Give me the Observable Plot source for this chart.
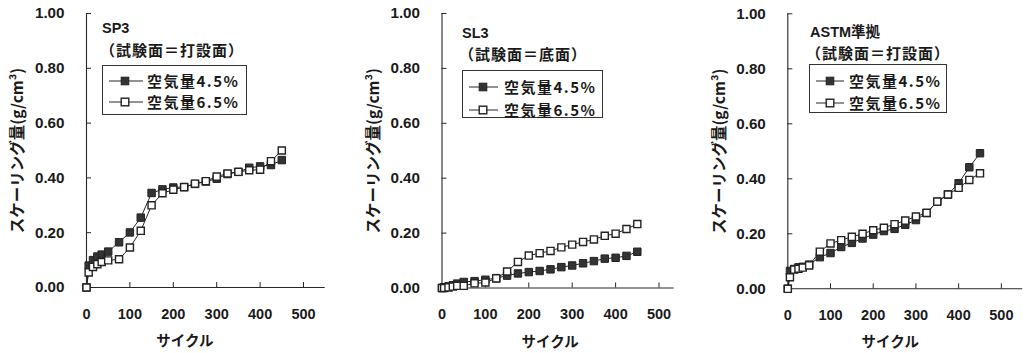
<!DOCTYPE html>
<html><head><meta charset="utf-8">
<script src="https://cdn.jsdelivr.net/npm/d3@7"></script>
<script src="https://cdn.jsdelivr.net/npm/@observablehq/plot@0.6"></script>
<style>
body{margin:0;background:#fff;}
#wrap{position:relative;width:1026px;height:353px;overflow:hidden;background:#fff;}
.panel{position:absolute;top:0;}
.t{position:absolute;font-family:"Noto Sans CJK JP","Liberation Sans",sans-serif;font-weight:bold;color:#1a1a1a;white-space:nowrap;line-height:20px;height:20px;}
.legend{position:absolute;border:1px solid #333;box-sizing:border-box;background:#fff;}
.row{position:absolute;left:0;height:20px;line-height:20px;white-space:nowrap;font-family:"Noto Sans CJK JP",sans-serif;font-weight:bold;font-size:15px;letter-spacing:1.5px;color:#1a1a1a;}
.row svg{position:absolute;top:0;left:0;}
.row span{position:absolute;top:0;}
</style></head>
<body><div id="wrap"></div>
<script>
// ---- data ----
const cycles = [0,5,15,25,35,50,75,100,125,150,175,200,225,250,275,300,325,350,375,400,425,450];
const sp3_45 = [0,0.080,0.100,0.113,0.120,0.131,0.165,0.201,0.255,0.345,0.358,0.365,0.367,0.378,0.387,0.397,0.414,0.422,0.437,0.442,0.447,0.465];
const sp3_65 = [0,0.055,0.075,0.085,0.093,0.099,0.103,0.146,0.207,0.300,0.344,0.357,0.366,0.379,0.388,0.405,0.416,0.422,0.428,0.430,0.461,0.500];
const sl3_45 = [0,0.003,0.006,0.010,0.016,0.022,0.025,0.030,0.036,0.045,0.053,0.058,0.062,0.068,0.076,0.082,0.090,0.098,0.107,0.110,0.117,0.132];
const sl3_65 = [0,0.000,0.002,0.005,0.008,0.008,0.017,0.020,0.035,0.060,0.095,0.118,0.127,0.135,0.148,0.158,0.168,0.177,0.190,0.198,0.215,0.233];
const astm_45 = [0,0.065,0.072,0.078,0.080,0.088,0.115,0.130,0.152,0.167,0.183,0.197,0.210,0.218,0.233,0.250,0.276,0.317,0.343,0.384,0.442,0.493];
const astm_65 = [0,0.042,0.070,0.073,0.077,0.085,0.135,0.165,0.177,0.189,0.200,0.213,0.222,0.235,0.248,0.263,0.276,0.317,0.343,0.367,0.396,0.420];
const xTicks = [0,100,200,300,400,500];
const yTicks = [0,0.2,0.4,0.6,0.8,1.0];
const seriesNames = ["空気量4.5%","空気量6.5%"];
const panelTitles = ["SP3","SL3","ASTM準拠"];
const panelSubtitles = ["（試験面＝打設面）","（試験面＝底面）","（試験面＝打設面）"];
const xLabel = "サイクル";
const yLabel = "スケーリング量(g/cm³)";

const panels = [
  {s45: sp3_45, s65: sp3_65, left: 0, width: 340, mL: 86, mR: 15.3, mT: 13, mB: 66, xMax: 550, xlDx: -21,
   title: {x: 102, y: 27.5}, sub: {x: 100, y: 49.5}, box: {x: 102, y: 65, w: 145, h: 50, r1: 16, r2: 37, l0: 6, l1: 40, m: 22, tx: 44}},
  {s45: sl3_45, s65: sl3_65, left: 350, width: 340, mL: 91.5, mR: 16.3, mT: 13, mB: 65.5, xMax: 535, xlDx: -8,
   title: {x: 462, y: 33}, sub: {x: 459, y: 54}, box: {x: 462, y: 70, w: 141, h: 48, r1: 17, r2: 40, l0: 6, l1: 35, m: 20, tx: 41}},
  {s45: astm_45, s65: astm_65, left: 700, width: 326, mL: 87.3, mR: 3.8, mT: 13.3, mB: 64.7, xMax: 550, xlDx: -15,
   title: {x: 810, y: 32}, sub: {x: 806, y: 52.5}, box: {x: 809, y: 64, w: 138, h: 49, r1: 17, r2: 39, l0: 6, l1: 34, m: 20, tx: 39}}
];

const ink = "#262626";
const wrap = document.getElementById("wrap");

panels.forEach((p, i) => {
  const rows45 = cycles.map((c, k) => ({x: c, y: p.s45[k]}));
  const rows65 = cycles.map((c, k) => ({x: c, y: p.s65[k]}));
  const plotH = 353 - p.mT - p.mB;
  const plotW = p.width - p.mL - p.mR;
  const chart = Plot.plot({
    width: p.width, height: 353,
    marginLeft: p.mL, marginRight: p.mR, marginTop: p.mT, marginBottom: p.mB,
    x: {domain: [0, p.xMax]},
    y: {domain: [0, 1]},
    style: {fontFamily: "'Liberation Sans', Arial, sans-serif", fontSize: "14.5px", fontWeight: "bold", color: "#1a1a1a", background: "transparent", overflow: "visible"},
    marks: [
      Plot.ruleX([0], {stroke: ink, strokeWidth: 1.1}),
      Plot.ruleY([0], {stroke: ink, strokeWidth: 1.1}),
      Plot.ruleX(xTicks.filter(t => t > 0), {stroke: ink, insetTop: plotH - 5}),
      Plot.ruleY(yTicks.filter(t => t > 0), {stroke: ink, insetRight: plotW - 5}),
      Plot.axisX(xTicks, {tickSize: 0, tickPadding: 21, label: null, fontSize: 14.5, tickFormat: d3.format("d")}),
      Plot.axisY(yTicks, {tickSize: 0, tickPadding: 22, label: null, fontSize: 15.2, tickFormat: d3.format(".2f")}),
      Plot.line(rows45, {x: "x", y: "y", stroke: ink, strokeWidth: 1}),
      Plot.line(rows65, {x: "x", y: "y", stroke: ink, strokeWidth: 1}),
      Plot.dot(rows45, {x: "x", y: "y", symbol: "square", r: 4.2, fill: "#333", stroke: "#222", strokeWidth: 1}),
      Plot.dot(rows65, {x: "x", y: "y", symbol: "square", r: 4.0, fill: "white", stroke: "#222", strokeWidth: 1.4}),
      Plot.text([xLabel], {frameAnchor: "bottom", textAnchor: "middle", lineAnchor: "middle", dy: 54, dx: p.xlDx, fontFamily: "'Noto Sans CJK JP', sans-serif", fontSize: 14.5, fontWeight: "bold", fill: "#1a1a1a"}),
      Plot.text([yLabel], {frameAnchor: "left", textAnchor: "middle", lineAnchor: "middle", rotate: -90, dx: -68, fontFamily: "'Noto Sans CJK JP', sans-serif", fontSize: 15.5, fontWeight: "bold", fill: "#1a1a1a"})
    ]
  });
  const holder = document.createElement("div");
  holder.className = "panel";
  holder.style.left = p.left + "px";
  holder.appendChild(chart);
  wrap.appendChild(holder);

  // titles
  const t1 = document.createElement("div");
  t1.className = "t";
  t1.style.left = p.title.x + "px"; t1.style.top = (p.title.y - 10) + "px";
  t1.style.fontSize = "14.5px";
  t1.style.fontFamily = "'Liberation Sans','Noto Sans CJK JP',sans-serif";
  t1.textContent = panelTitles[i];
  wrap.appendChild(t1);
  const t2 = document.createElement("div");
  t2.className = "t";
  t2.style.left = p.sub.x + "px"; t2.style.top = (p.sub.y - 10) + "px";
  t2.style.fontSize = "15px"; t2.style.letterSpacing = "1px";
  t2.textContent = panelSubtitles[i];
  wrap.appendChild(t2);

  // legend
  const b = p.box;
  const box = document.createElement("div");
  box.className = "legend";
  box.style.left = b.x + "px"; box.style.top = b.y + "px";
  box.style.width = b.w + "px"; box.style.height = b.h + "px";
  [b.r1, b.r2].forEach((ry, k) => {
    const row = document.createElement("div");
    row.className = "row";
    row.style.top = (ry - 10 - 1) + "px";
    row.style.width = (b.w - 2) + "px";
    const filled = k === 0;
    row.innerHTML =
      `<svg width="${b.tx}" height="20"><line x1="${b.l0}" x2="${b.l1}" y1="10" y2="10" stroke="${ink}" stroke-width="1"/>` +
      `<rect x="${b.m - 3.8}" y="6.2" width="7.6" height="7.6" fill="${filled ? '#333' : '#fff'}" stroke="#222" stroke-width="${filled ? 1 : 1.4}"/></svg>` +
      `<span style="left:${b.tx}px">${seriesNames[k]}</span>`;
    box.appendChild(row);
  });
  wrap.appendChild(box);
});
</script>
</body></html>
